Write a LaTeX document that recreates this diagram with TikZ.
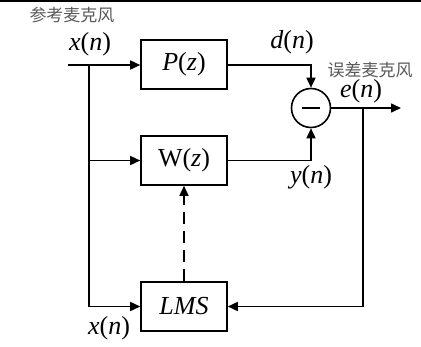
\documentclass[tikz,border=0pt]{standalone}
\usepackage{fontspec}
\setmainfont{Liberation Serif}
\newfontfamily\cjk{Noto Sans CJK SC}
\usetikzlibrary{arrows.meta}
\tikzset{
  wire/.style={line width=1.6pt},
  arr/.style={wire,-{Triangle[length=10pt,width=9pt]}},
  blk/.style={draw,line width=1.6pt,minimum width=86pt,minimum height=49pt,inner sep=0pt,font=\fontsize{26}{28}\selectfont},
  lbl/.style={inner sep=0pt,font=\fontsize{26}{28}\selectfont},
  cn/.style={inner sep=0pt,text=black!65,font=\cjk\fontsize{17}{18}\selectfont},
}
\begin{document}
\begin{tikzpicture}[x=1pt,y=-1pt]
\useasboundingbox (0,0) rectangle (421,346);
\draw[line width=1.6pt] (0,0.8) -- (421,0.8);
% blocks
\node[blk] (P) at (184,64.5) {\textit{P}(\textit{z})};
\node[blk] (W) at (184,160.5) {W(\textit{z})};
\node[blk] (L) at (184,306.5) {\textit{LMS}};
\node[draw,circle,line width=1.6pt,minimum size=39pt,inner sep=0pt] (S) at (311,108) {};
\draw[line width=2.6pt] ([xshift=-9pt]S.center) -- ([xshift=9pt]S.center);
% coordinates
\coordinate (in) at (68,65);
\coordinate (br) at (89,65);
\coordinate (out) at (401,108);
\coordinate (fb) at (363,108);
% connectors
\draw[arr] (in) -- (P.west |- in);
\draw[wire] (br) -- (br |- L.west);
\draw[arr] (br |- W.west) -- (W.west);
\draw[arr] (br |- L.west) -- (L.west);
\draw[arr] (P.east |- in) -| (S.north);
\draw[arr] (W.east) -| (S.south);
\draw[arr] (S.east) -- (out);
\draw[arr] (fb) |- (L.east);
\draw[arr,dash pattern=on 12pt off 7pt] (L.north) -- (W.south);
% labels
\node[cn] (c1) at (72,15) {参考麦克风};
\node[lbl] (xin) at (90,44) {\textit{x}(\textit{n})};
\node[lbl] (dn) at (292,42) {\textit{d}(\textit{n})};
\node[cn] (c2) at (370,70.5) {误差麦克风};
\node[lbl] (en) at (361,91) {\textit{e}(\textit{n})};
\node[lbl] (yn) at (311,177) {\textit{y}(\textit{n})};
\node[lbl] (xb) at (109,328) {\textit{x}(\textit{n})};
\end{tikzpicture}
\end{document}
